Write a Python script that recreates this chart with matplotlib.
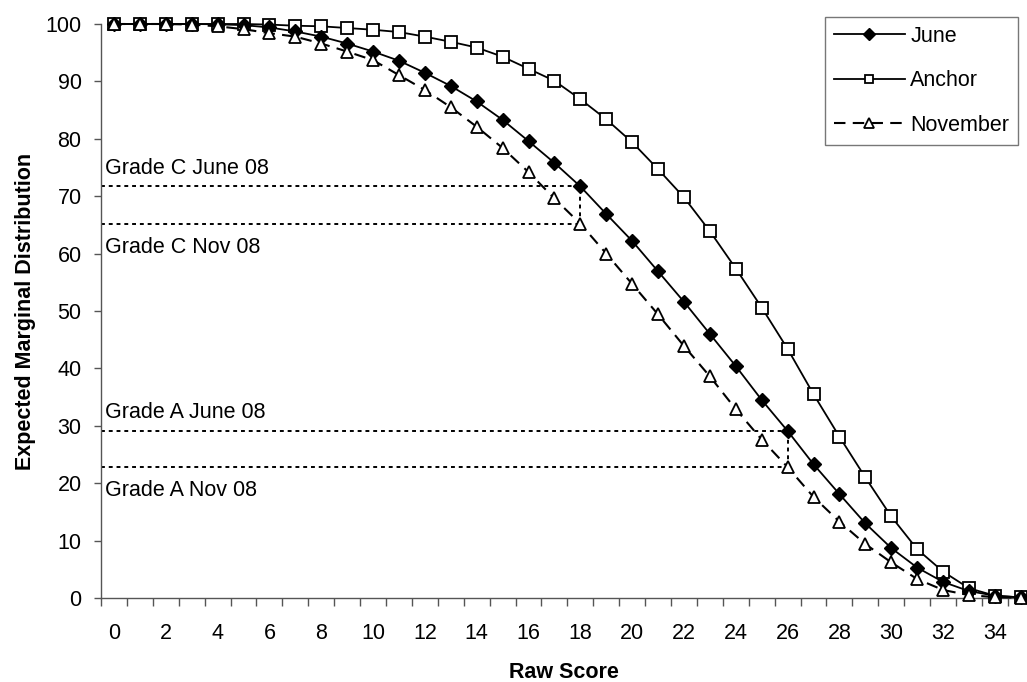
#!/usr/bin/env python3
# -*- coding: utf-8 -*-
"""
Expected marginal distribution by raw score: June, Anchor and November
with grade C / grade A boundary markers
"""
import matplotlib
matplotlib.use('Agg')
import matplotlib.pyplot as plt
from matplotlib.ticker import FixedLocator, NullFormatter

plt.rcParams['font.family'] = ['Liberation Sans', 'DejaVu Sans']

### DATA
scores = list(range(36))

june = [100, 100, 100, 100, 99.95, 99.8, 99.4, 98.7, 97.8, 96.6,
        95.2, 93.6, 91.5, 89.2, 86.5, 83.3, 79.6, 75.8, 71.7, 66.9,
        62.2, 56.9, 51.6, 46.0, 40.4, 34.5, 29.1, 23.3, 18.1, 13.0,
        8.7, 5.3, 2.8, 1.2, 0.4, 0.1]

anchor = [100, 100, 100, 100, 100, 100, 99.9, 99.7, 99.6, 99.3,
          99.0, 98.6, 97.8, 96.9, 95.9, 94.3, 92.2, 90.1, 86.9, 83.4,
          79.4, 74.7, 69.8, 63.9, 57.4, 50.6, 43.4, 35.5, 28.1, 21.0,
          14.2, 8.5, 4.6, 1.7, 0.4, 0.1]

november = [100, 100, 100, 99.9, 99.6, 99.1, 98.4, 97.8, 96.6, 95.2,
            93.7, 91.1, 88.5, 85.5, 82.1, 78.4, 74.2, 69.6, 65.2, 60.0,
            54.7, 49.4, 43.9, 38.6, 32.9, 27.6, 22.8, 17.6, 13.3, 9.4,
            6.2, 3.3, 1.4, 0.5, 0.15, 0.05]

grade_names  = ['C', 'A']
grade_scores = [18, 26]

xtick_labels = [str(s) for s in scores if s % 2 == 0]

### STYLE
FS       = 15.5
AXIS_COL = '#555555'
W, H     = 1027, 682

fig = plt.figure(figsize=(W / 100, H / 100), dpi=100)
axis = fig.add_axes([101 / W, 84 / H, (W - 101) / W, (598 - 24) / H])

axis.plot(scores, june, color='black', linewidth=1.3,
          marker='D', markersize=7.5, markerfacecolor='black',
          markeredgecolor='black', label='June', clip_on=False, zorder=4)
axis.plot(scores, anchor, color='black', linewidth=1.3,
          marker='s', markersize=8, markerfacecolor='white',
          markeredgecolor='black', markeredgewidth=1.3,
          label='Anchor', clip_on=False, zorder=3)
axis.plot(scores, november, color='black', linewidth=1.5,
          linestyle=(0, (5.5, 3.5)),
          marker='^', markersize=9, markerfacecolor='white',
          markeredgecolor='black', markeredgewidth=1.3,
          label='November', clip_on=False, zorder=5)

# grade boundary guides
x_left = -0.5
for name, gscore in zip(grade_names, grade_scores):
    y_june = june[gscore]
    y_nov  = november[gscore]
    for yval in (y_june, y_nov):
        axis.plot([x_left, gscore], [yval, yval], color='black',
                  linewidth=1.4, linestyle=(0, (2, 2)), zorder=2)
    axis.plot([gscore, gscore], [y_nov, y_june], color='black',
              linewidth=1.4, linestyle=(0, (2, 2)), zorder=2)
    axis.annotate(f'Grade {name} June 08', xy=(x_left, y_june),
                  xytext=(3, 13), textcoords='offset points',
                  va='center', ha='left', fontsize=FS)
    axis.annotate(f'Grade {name} Nov 08', xy=(x_left, y_nov),
                  xytext=(3, -17), textcoords='offset points',
                  va='center', ha='left', fontsize=FS)

# axes
axis.set_xlim(-0.5, -0.5 + (W - 101) / 25.91)
axis.set_ylim(0, 100)

axis.set_xticks([s for s in scores if s % 2 == 0])
axis.set_xticklabels(xtick_labels)
axis.xaxis.set_minor_locator(FixedLocator([s - 0.5 for s in scores] + [35.5]))
axis.xaxis.set_minor_formatter(NullFormatter())
axis.tick_params(axis='x', which='major', length=0, pad=18, labelsize=FS)
axis.tick_params(axis='x', which='minor', length=6, width=1,
                 color=AXIS_COL, direction='out')

axis.set_yticks(range(0, 101, 10))
axis.tick_params(axis='y', which='major', length=5, width=1, pad=9,
                 color=AXIS_COL, direction='out', labelsize=FS)

for side in ['top', 'right']:
    axis.spines[side].set_visible(False)
for side in ['left', 'bottom']:
    axis.spines[side].set_color(AXIS_COL)
    axis.spines[side].set_linewidth(1)

axis.set_xlabel('Raw Score', fontsize=FS, fontweight='bold', labelpad=13)
axis.set_ylabel('Expected Marginal Distribution', fontsize=FS,
                fontweight='bold', labelpad=7)

leg = axis.legend(loc='upper right',
                  bbox_to_anchor=(1018 / W, 1 - 17 / H),
                  bbox_transform=fig.transFigure,
                  borderaxespad=0, fontsize=FS, frameon=True,
                  fancybox=False, handlelength=3.3, handletextpad=0.25,
                  labelspacing=1.1, borderpad=0.4, markerscale=0.8)
leg.get_frame().set_edgecolor(AXIS_COL)
leg.get_frame().set_linewidth(1)

fig.savefig('out.png', dpi=100, facecolor='white')
